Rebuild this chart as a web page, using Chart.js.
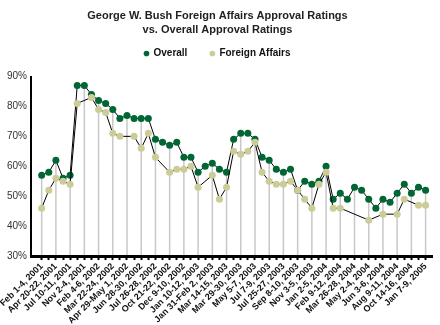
<!DOCTYPE html>
<html lang="en">
<head>
  <meta charset="UTF-8">
  <title>George W. Bush Foreign Affairs Approval Ratings</title>
  <script src="https://cdn.jsdelivr.net/npm/chart.js@4.4.0/dist/chart.umd.min.js"></script>
  <style>
    html, body { margin: 0; padding: 0; background: #fff; }
    #contenedor { width: 440px; height: 325px; position: relative; }
  </style>
</head>
<body>
  <div id="contenedor"><canvas id="grafica"></canvas></div>

  <script>
    // Poll dates: only every second poll carries a label on the axis
    const fechas = [
      'Feb 1-4, 2001', 'Apr 20-22, 2001', 'Jul 10-11, 2001', 'Nov 2-4, 2001',
      'Feb 4-6, 2002', 'Mar 22-24, 2002', 'Apr 29-May 1, 2002', 'Jun 28-30, 2002',
      'Jul 26-28, 2002', 'Oct 21-22, 2002', 'Dec 9-10, 2002', 'Jan 10-12, 2003',
      'Jan 31-Feb 2, 2003', 'Mar 14-15, 2003', 'Mar 29-30, 2003', 'May 5-7, 2003',
      'Jul 7-9, 2003', 'Jul 25-27, 2003', 'Sep 8-10, 2003', 'Nov 3-5, 2003',
      'Jan 2-5, 2004', 'Feb 9-12, 2004', 'Mar 26-28, 2004', 'May 2-4, 2004',
      'Jun 3-6, 2004', 'Aug 9-11, 2004', 'Oct 14-16, 2004', 'Jan 7-9, 2005'
    ];

    // Approval (%) for each poll, 55 polls
    const overall = [
      57, 58, 62, 56, 57, 87, 87, 84, 82, 81,
      79, 76, 77, 76, 76, 76, 69, 68, 67, 68,
      63, 63, 58, 60, 61, 59, 58, 69, 71, 71,
      69, 63, 62, 59, 58, 59, 52, 55, 54, 55,
      60, 49, 51, 49, 53, 52, 49, 46, 49, 48,
      51, 54, 51, 53, 52
    ];
    // null = foreign affairs not asked in that poll
    const foreign = [
      46, 52, 56, 55, 54, 81, null, 83, 79, 78,
      71, 70, null, 70, 66, 71, 63, null, 58, 59,
      59, 60, 53, null, 57, 49, 53, 65, 64, 65,
      68, 58, 55, 54, 54, 55, 52, 49, 46, 54,
      58, 46, 46, null, null, null, 42, null, 44, null,
      44, 49, null, 47, 47
    ];

    const yMin = 30;
    const yMax = 90;

    // gray drop lines from the highest point of each labelled poll down to the axis
    const lineasGuia = {
      id: 'lineasGuia',
      beforeDatasetsDraw(chart) {
        const { ctx, scales: { x, y } } = chart;
        ctx.save();
        ctx.strokeStyle = '#c8c8c8';
        ctx.lineWidth = 1.5;
        for (let i = 0; i < overall.length; i += 2) {
          const tope = Math.max(overall[i], foreign[i] ?? 0);
          const px = x.getPixelForValue(i);
          ctx.beginPath();
          ctx.moveTo(px, y.getPixelForValue(yMin) - 1);
          ctx.lineTo(px, y.getPixelForValue(tope));
          ctx.stroke();
        }
        ctx.restore();
      }
    };

    // extra room under the legend
    const espacioLeyenda = {
      id: 'espacioLeyenda',
      beforeInit(chart) {
        const fitOriginal = chart.legend.fit;
        chart.legend.fit = function () {
          fitOriginal.bind(chart.legend)();
          this.height += 8;
        };
      }
    };

    const puntos = arr => arr.map((v, i) => ({ x: i, y: v }));

    new Chart(document.getElementById('grafica'), {
      type: 'line',
      data: {
        datasets: [
          {
            label: 'Overall',
            data: puntos(overall),
            borderColor: '#000',
            borderWidth: 1,
            backgroundColor: '#006633',
            pointBackgroundColor: '#006633',
            pointBorderWidth: 0,
            pointRadius: 3.5,
            pointStyle: 'circle',
            spanGaps: true,
            order: 1
          },
          {
            label: 'Foreign Affairs',
            data: puntos(foreign),
            borderColor: '#000',
            borderWidth: 1,
            backgroundColor: '#cccc99',
            pointBackgroundColor: '#cccc99',
            pointBorderWidth: 0,
            pointRadius: 3.5,
            pointStyle: 'circle',
            spanGaps: true,
            order: 0
          }
        ]
      },
      options: {
        responsive: true,
        maintainAspectRatio: false,
        animation: false,
        layout: { padding: { left: 3, right: 8, top: 0, bottom: -2 } },
        plugins: {
          title: {
            display: true,
            text: ['George W. Bush Foreign Affairs Approval Ratings', 'vs. Overall Approval Ratings'],
            color: '#222',
            font: { family: 'Liberation Sans, Arial', size: 11, weight: 'bold', lineHeight: 1.25 },
            padding: { top: 9, bottom: -11 }
          },
          legend: {
            labels: {
              usePointStyle: true,
              pointStyle: 'circle',
              boxWidth: 4,
              boxHeight: 4,
              padding: 23,
              color: '#111',
              font: { family: 'Liberation Sans, Arial', size: 10, weight: 'bold' },
              sort: (a, b) => a.datasetIndex - b.datasetIndex
            }
          },
          tooltip: { enabled: false }
        },
        scales: {
          x: {
            type: 'linear',
            min: -1.5,
            max: 54.9,
            afterFit: s => { s.paddingLeft = 0; s.paddingRight = 0; },
            border: { color: '#000', width: 3 },
            grid: {
              drawOnChartArea: false,
              drawTicks: true,
              tickLength: 4,
              tickWidth: 2,
              tickColor: c => (c.tick && c.tick.value >= 0) ? '#000' : 'rgba(0,0,0,0)'
            },
            ticks: {
              stepSize: 1,
              autoSkip: false,
              includeBounds: false,
              maxRotation: 45,
              minRotation: 45,
              padding: 1,
              color: '#111',
              font: { family: 'Liberation Sans, Arial', size: 9, weight: 'bold' },
              callback: v => (v >= 0 && v % 2 === 0) ? fechas[v / 2] : ''
            }
          },
          y: {
            min: yMin,
            max: yMax,
            border: { color: '#000', width: 2 },
            grid: { display: false, drawTicks: false, tickLength: 0 },
            ticks: {
              stepSize: 10,
              padding: 4,
              color: '#333',
              font: { family: 'Liberation Sans, Arial', size: 10 },
              callback: v => v + '%'
            }
          }
        }
      },
      plugins: [lineasGuia, espacioLeyenda]
    });
  </script>
</body>
</html>
